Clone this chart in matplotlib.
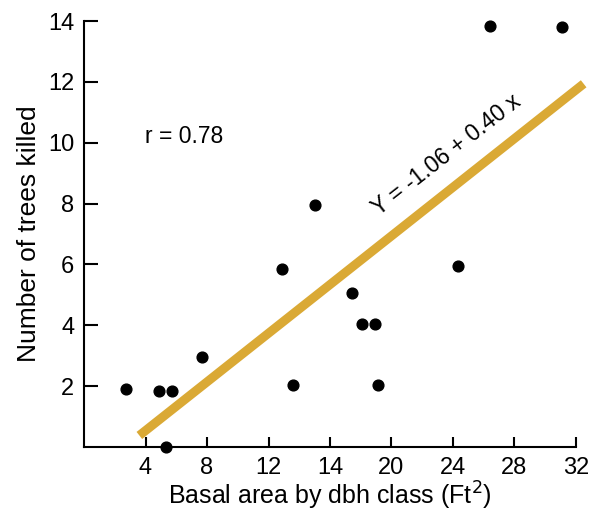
import matplotlib
matplotlib.use("Agg")
import matplotlib.pyplot as plt
import numpy as np

# data
basal_area = [2.7, 4.9, 5.7, 5.3, 7.7, 12.9, 13.6, 15.0, 17.4, 18.1, 18.9, 19.1, 24.3, 26.4, 31.1]
trees_killed = [1.9, 1.85, 1.85, 0.0, 2.95, 5.85, 2.05, 7.95, 5.05, 4.05, 4.05, 2.05, 5.95, 13.85, 13.8]

x_ticks = [4, 8, 12, 16, 20, 24, 28, 32]
x_tick_labels = ["4", "8", "12", "14", "20", "24", "28", "32"]
y_ticks = [2, 4, 6, 8, 10, 12, 14]

fit_intercept = -1.06
fit_slope = 0.40
fit_x = np.array([3.6, 32.5])

plt.rcParams['font.family'] = ['Liberation Sans', 'DejaVu Sans']

fig = plt.figure(figsize=(5.93, 5.15), dpi=100)
ax = fig.add_axes([0.1417, 0.132, 0.8296, 0.827])

ax.plot(fit_x, fit_intercept + fit_slope * fit_x, color="#DAA935", lw=6.5,
        solid_capstyle="butt", clip_on=False, zorder=2)
ax.scatter(basal_area, trees_killed, s=60, color="black", zorder=3, clip_on=False)

ax.set_xlim(0, 32)
ax.set_ylim(0, 14)
ax.spines["top"].set_visible(False)
ax.spines["right"].set_visible(False)
for s in ("left", "bottom"):
    ax.spines[s].set_linewidth(1.5)

ax.set_xticks(x_ticks)
ax.set_xticklabels(x_tick_labels)
ax.set_yticks(y_ticks)
ax.tick_params(axis="x", direction="in", length=7, width=1.5, labelsize=17, pad=7)
ax.tick_params(axis="y", direction="in", length=10, width=1.5, labelsize=17, pad=7)

ax.set_xlabel("Basal area by dbh class (Ft$^2$)", fontsize=18, labelpad=1)
ax.set_ylabel("Number of trees killed", fontsize=19, labelpad=5)

ax.text(3.95, 10.2, "r = 0.78", fontsize=16.5, ha="left", va="center")
ax.text(23.6, 9.6, "Y = -1.06 + 0.40 x", fontsize=16.5, ha="center", va="center",
        rotation=38, rotation_mode="anchor")

plt.savefig("out.png", dpi=100)
plt.close()
